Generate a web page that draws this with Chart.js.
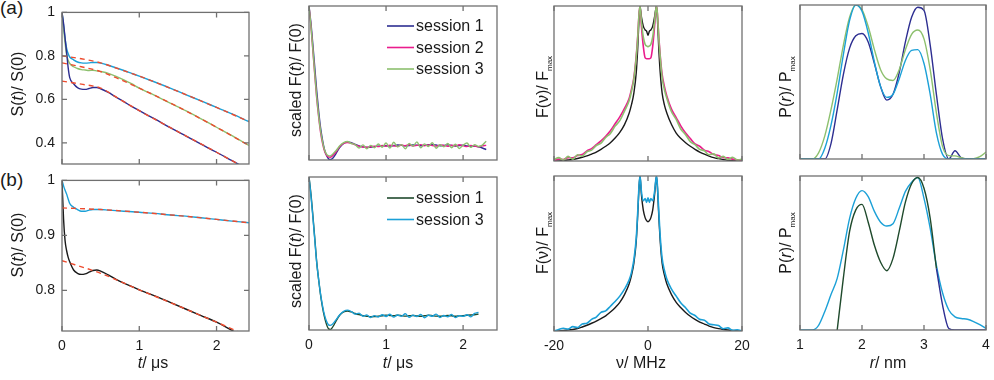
<!DOCTYPE html>
<html>
<head>
<meta charset="utf-8">
<script src="https://cdn.jsdelivr.net/npm/chart.js@4.4.1/dist/chart.umd.min.js"></script>
<style>
  html, body { margin: 0; padding: 0; background: #fff; }
  body { width: 994px; height: 380px; position: relative; overflow: hidden; font-family: "Liberation Sans", Arial, sans-serif; }
  canvas { position: absolute; }
  .tag { position: absolute; font-size: 19px; line-height: 19px; color: #1a1a1a; }
</style>
</head>
<body>
<div class="tag" style="left:0px;top:-2px">(a)</div>
<div class="tag" style="left:0px;top:170px">(b)</div>
<script>
// colours
const NAVY = '#2d2e91', MAGENTA = '#ea1d8d', GREEN = '#8dc06e', CYAN = '#1ba0d7';
const RED = '#ed4c2f', BLACK = '#1a1a1a', DKGREEN = '#1f4a2c', INK = '#1a1a1a', FRAME = '#707070';
const FONT = '"Liberation Sans", Arial, sans-serif';

// tick values
const tTicks = [0, 1, 2];
const nuTicks = [-20, 0, 20];
const rTicks = [1, 2, 3, 4];
const sTicksA = [0.4, 0.6, 0.8, 1];
const sTicksB = [0.8, 0.9, 1];

// column 1, row (a): S(t)/S(0)
const t1a = [0, 0.02, 0.04, 0.06, 0.08, 0.1, 0.15, 0.2, 0.25, 0.3, 0.35, 0.4, 0.45, 0.5, 0.6, 0.7, 0.8, 0.9, 1.0, 1.2, 1.4, 1.6, 1.8, 2.0, 2.2, 2.42];
const navy1a = [1.0, 0.95, 0.88, 0.815, 0.745, 0.7, 0.672, 0.654, 0.647, 0.646, 0.65, 0.655, 0.655, 0.649, 0.632, 0.61, 0.59, 0.568, 0.548, 0.51, 0.47, 0.432, 0.394, 0.357, 0.318, 0.276];
const cyan1a = [1.0, 0.94, 0.88, 0.835, 0.81, 0.795, 0.782, 0.772, 0.768, 0.767, 0.768, 0.77, 0.77, 0.767, 0.757, 0.745, 0.733, 0.72, 0.707, 0.68, 0.652, 0.622, 0.593, 0.563, 0.533, 0.498];
const green1a = [1.0, 0.93, 0.86, 0.805, 0.78, 0.765, 0.75, 0.742, 0.737, 0.735, 0.733, 0.734, 0.731, 0.728, 0.72, 0.706, 0.69, 0.672, 0.652, 0.618, 0.583, 0.548, 0.511, 0.472, 0.433, 0.388];
const tf1a = [0, 0.25, 0.5, 0.75, 1.0, 1.5, 2.0, 2.42];
const fitCyan1a = [0.8, 0.787, 0.768, 0.738, 0.707, 0.637, 0.563, 0.498];
const fitGreen1a = [0.768, 0.75, 0.728, 0.692, 0.652, 0.566, 0.472, 0.388];
const fitNavy1a = [0.684, 0.67, 0.652, 0.6, 0.548, 0.452, 0.357, 0.276];

// column 1, row (b)
const t1b = [0, 0.02, 0.04, 0.06, 0.08, 0.1, 0.15, 0.2, 0.25, 0.3, 0.35, 0.4, 0.45, 0.5, 0.6, 0.7, 0.8, 1.0, 1.2, 1.4, 1.6, 1.8, 2.0, 2.2, 2.42];
const black1b = [1.0, 0.93, 0.89, 0.872, 0.86, 0.852, 0.837, 0.831, 0.829, 0.83, 0.833, 0.836, 0.837, 0.835, 0.828, 0.82, 0.813, 0.801, 0.79, 0.778, 0.766, 0.754, 0.742, 0.727, 0.71];
const cyan1b = [1.0, 0.99, 0.982, 0.975, 0.966, 0.958, 0.951, 0.947, 0.944, 0.944, 0.946, 0.947, 0.947, 0.947, 0.946, 0.945, 0.944, 0.942, 0.94, 0.937, 0.935, 0.932, 0.929, 0.926, 0.923];
const tf1b = [0, 0.5, 1.0, 1.5, 2.0, 2.42];
const fitCyan1b = [0.95, 0.947, 0.942, 0.936, 0.929, 0.923];
const fitBlack1b = [0.854, 0.831, 0.801, 0.772, 0.742, 0.716];

// column 2: scaled F(t)/F(0)
const t2 = [0, 0.025, 0.05, 0.075, 0.1, 0.125, 0.15, 0.175, 0.2, 0.225, 0.25, 0.275, 0.3, 0.325, 0.35,
  0.4, 0.45, 0.5, 0.55, 0.6, 0.65, 0.7, 0.75, 0.8, 0.85, 0.9, 0.95, 1.0, 1.05, 1.1, 1.15, 1.2, 1.25, 1.3, 1.35,
  1.4, 1.45, 1.5, 1.55, 1.6, 1.65, 1.7, 1.75, 1.8, 1.85, 1.9, 1.95, 2.0, 2.05, 2.1, 2.15, 2.2, 2.25, 2.3];
const navy2a = [1.0, 0.89, 0.75, 0.6, 0.45, 0.32, 0.21, 0.13, 0.07, 0.032, 0.01, 0.003, 0.008, 0.022, 0.042,
  0.082, 0.108, 0.117, 0.112, 0.101, 0.092, 0.085, 0.082, 0.083, 0.087, 0.09, 0.092, 0.093, 0.091, 0.094, 0.097, 0.095, 0.092, 0.094, 0.098,
  0.096, 0.093, 0.095, 0.099, 0.1, 0.097, 0.093, 0.095, 0.098, 0.094, 0.091, 0.094, 0.096, 0.092, 0.088, 0.09, 0.085, 0.078, 0.068];
const magenta2a = [1.0, 0.87, 0.71, 0.55, 0.4, 0.28, 0.18, 0.11, 0.06, 0.033, 0.02, 0.018, 0.025, 0.037, 0.052,
  0.088, 0.108, 0.114, 0.108, 0.098, 0.09, 0.084, 0.083, 0.086, 0.09, 0.087, 0.094, 0.09, 0.096, 0.092, 0.088, 0.097, 0.093, 0.099, 0.09,
  0.095, 0.1, 0.092, 0.097, 0.094, 0.09, 0.098, 0.094, 0.089, 0.096, 0.092, 0.099, 0.093, 0.087, 0.095, 0.09, 0.086, 0.092, 0.095];
const green2a = [1.0, 0.87, 0.72, 0.56, 0.41, 0.29, 0.19, 0.12, 0.068, 0.04, 0.028, 0.026, 0.034, 0.047, 0.06,
  0.092, 0.113, 0.12, 0.107, 0.1, 0.078, 0.098, 0.072, 0.095, 0.08, 0.104, 0.083, 0.11, 0.077, 0.115, 0.085, 0.1, 0.072, 0.108, 0.09,
  0.118, 0.079, 0.105, 0.088, 0.112, 0.076, 0.099, 0.086, 0.107, 0.08, 0.102, 0.075, 0.096, 0.11, 0.082, 0.1, 0.088, 0.097, 0.122];
const dkgreen2b = [1.0, 0.89, 0.75, 0.6, 0.445, 0.33, 0.23, 0.15, 0.087, 0.04, 0.01, 0.003, 0.014, 0.034, 0.058,
  0.098, 0.118, 0.124, 0.118, 0.108, 0.1, 0.094, 0.09, 0.087, 0.088, 0.09, 0.093, 0.097, 0.095, 0.093, 0.096, 0.094, 0.091, 0.093, 0.095,
  0.092, 0.09, 0.093, 0.096, 0.094, 0.091, 0.09, 0.092, 0.095, 0.093, 0.09, 0.092, 0.094, 0.096, 0.098, 0.1, 0.104];
const cyan2b = [1.0, 0.88, 0.74, 0.59, 0.44, 0.33, 0.235, 0.16, 0.1, 0.06, 0.036, 0.03, 0.036, 0.05, 0.066,
  0.1, 0.122, 0.13, 0.12, 0.104, 0.11, 0.09, 0.099, 0.082, 0.094, 0.085, 0.1, 0.088, 0.103, 0.084, 0.098, 0.09, 0.106, 0.083, 0.097,
  0.088, 0.102, 0.08, 0.096, 0.09, 0.104, 0.082, 0.095, 0.087, 0.101, 0.081, 0.094, 0.089, 0.1, 0.086, 0.108, 0.115];

// column 3: F(nu)/F_max
const nu = [-20, -19, -18, -17, -16, -15, -14, -13, -12, -11, -10, -9, -8, -7, -6, -5, -4,
  -3.5, -3, -2.5, -2.2, -1.9, -1.7, -1.4, -1, -0.6, -0.3, 0, 0.3, 0.6, 1, 1.4, 1.8, 2, 2.3, 2.6, 3, 3.5,
  4, 5, 6, 7, 8, 9, 10, 11, 12, 13, 14, 15, 16, 17, 18, 19, 20];
const black3a = [0, 0.001, 0.003, 0.006, 0.01, 0.016, 0.024, 0.033, 0.045, 0.058, 0.075, 0.095, 0.118, 0.148, 0.185, 0.235, 0.31,
  0.365, 0.44, 0.57, 0.72, 0.92, 1.0, 0.93, 0.87, 0.845, 0.838, 0.81, 0.838, 0.845, 0.87, 0.93, 1.0, 0.92, 0.72, 0.57, 0.44, 0.36,
  0.31, 0.235, 0.18, 0.145, 0.118, 0.095, 0.075, 0.058, 0.044, 0.032, 0.022, 0.015, 0.009, 0.005, 0.003, 0.001, 0];
const magenta3a = [0.004, 0.012, 0.01, 0.022, 0.02, 0.035, 0.042, 0.065, 0.08, 0.105, 0.13, 0.16, 0.195, 0.24, 0.285, 0.34, 0.405,
  0.465, 0.54, 0.68, 0.8, 0.95, 1.0, 0.87, 0.74, 0.665, 0.66, 0.66, 0.66, 0.665, 0.74, 0.87, 1.0, 0.95, 0.8, 0.68, 0.56, 0.48,
  0.42, 0.335, 0.28, 0.225, 0.18, 0.145, 0.11, 0.095, 0.07, 0.06, 0.042, 0.035, 0.022, 0.02, 0.012, 0.008, 0.004];
const green3a = [0.01, 0.022, 0.006, 0.03, 0.012, 0.04, 0.032, 0.06, 0.07, 0.1, 0.115, 0.152, 0.178, 0.225, 0.26, 0.322, 0.39,
  0.45, 0.53, 0.67, 0.79, 0.95, 1.0, 0.9, 0.8, 0.752, 0.742, 0.737, 0.742, 0.752, 0.8, 0.9, 1.0, 0.95, 0.79, 0.67, 0.54, 0.46,
  0.405, 0.318, 0.268, 0.205, 0.17, 0.125, 0.105, 0.075, 0.066, 0.04, 0.046, 0.02, 0.03, 0.01, 0.024, 0.006, 0.012];
const black3b = [0, 0.001, 0.003, 0.006, 0.01, 0.016, 0.026, 0.037, 0.05, 0.064, 0.08, 0.098, 0.122, 0.15, 0.185, 0.235, 0.305,
  0.36, 0.44, 0.58, 0.74, 0.93, 1.0, 0.88, 0.78, 0.73, 0.712, 0.705, 0.712, 0.73, 0.78, 0.88, 1.0, 0.93, 0.74, 0.58, 0.44, 0.36,
  0.305, 0.235, 0.185, 0.15, 0.12, 0.095, 0.075, 0.058, 0.045, 0.032, 0.022, 0.015, 0.01, 0.006, 0.003, 0.001, 0];
const cyan3b = [0.0, 0.01, 0.018, 0.012, 0.028, 0.022, 0.045, 0.05, 0.075, 0.09, 0.12, 0.13, 0.16, 0.19, 0.225, 0.27, 0.33,
  0.38, 0.46, 0.6, 0.76, 0.94, 1.0, 0.9, 0.84, 0.855, 0.83, 0.86, 0.83, 0.855, 0.84, 0.9, 1.0, 0.94, 0.77, 0.61, 0.47, 0.39,
  0.335, 0.27, 0.225, 0.18, 0.15, 0.115, 0.1, 0.075, 0.07, 0.045, 0.04, 0.035, 0.015, 0.02, 0.005, 0.008, 0.0];

// column 4: P(r)/P_max
const r = [1.0, 1.1, 1.2, 1.3, 1.4, 1.5, 1.6, 1.7, 1.8, 1.9, 2.0, 2.1, 2.2, 2.3, 2.4, 2.5, 2.6, 2.7, 2.8, 2.9,
  3.0, 3.1, 3.2, 3.3, 3.4, 3.5, 3.6, 3.7, 3.8, 3.9, 4.0];
const navy4a = [0, 0, 0, 0, 0, 0.1, 0.32, 0.55, 0.72, 0.8, 0.815, 0.76, 0.62, 0.47, 0.382, 0.42, 0.56, 0.76, 0.92, 0.985,
  0.965, 0.74, 0.42, 0.13, 0, 0.054, 0.008, 0, 0, 0, 0];
const green4a = [0, 0, 0, 0.04, 0.15, 0.32, 0.52, 0.74, 0.92, 1.0, 0.97, 0.86, 0.71, 0.58, 0.52, 0.51, 0.58, 0.71, 0.81, 0.838,
  0.78, 0.58, 0.3, 0.08, 0.022, 0.02, 0.008, 0.001, 0.002, 0.015, 0.045];
const cyan4a = [0, 0, 0, 0, 0.07, 0.22, 0.43, 0.68, 0.9, 1.0, 0.96, 0.82, 0.63, 0.47, 0.4, 0.42, 0.52, 0.64, 0.705, 0.71,
  0.62, 0.42, 0.17, 0.03, 0, 0, 0, 0, 0, 0, 0];
const cyan4b = [0, 0, 0, 0.03, 0.12, 0.23, 0.335, 0.52, 0.725, 0.855, 0.905, 0.866, 0.77, 0.7, 0.675, 0.69, 0.79, 0.9, 0.96, 0.99,
  0.855, 0.66, 0.42, 0.24, 0.13, 0.085, 0.075, 0.07, 0.055, 0.035, 0.01];
const dkgreen4b = [null, null, null, null, null, null, 0, 0.34, 0.64, 0.78, 0.816, 0.7, 0.55, 0.44, 0.385, 0.465, 0.64, 0.83, 0.95, 0.99,
  0.92, 0.725, 0.4, null, null, null, null, null, null, null, null];
const navy4b = [null, null, null, null, null, null, null, null, null, null, null, null, null, null, null, null, null, null, null, null,
  null, null, 0.4, 0.16, 0.01, 0, 0, 0, 0, 0, 0];

// axis titles: [text, style] with 'i' italic, 's' subscript
const titleS = [['S('], ['t', 'i'], [')/ S(0)']];
const titleScaled = [['scaled F('], ['t', 'i'], [')/ F(0)']];
const titleF = [['F(ν)/ F'], ['max', 's']];
const titleP = [['P('], ['r', 'i'], [')/ P'], ['max', 's']];
const titleT = [['t', 'i'], ['/ μs']];
const titleNu = [['ν/ MHz']];
const titleR = [['r', 'i'], ['/ nm']];

const ML = 60, MT = 12, MR = 20, MB = 50;

function pts(xs, ys) {
  return ys.map((y, i) => ({ x: xs[i], y: y }));
}
function curve(xs, ys, color, w) {
  return { data: pts(xs, ys), borderColor: color, borderWidth: w || 1.4, pointRadius: 0, fill: false,
    cubicInterpolationMode: 'monotone', spanGaps: false };
}
function dash(xs, ys) {
  const d = curve(xs, ys, RED, 1.4);
  d.borderDash = [5, 4];
  return d;
}

function segFont(s) {
  if (s[1] === 's') return '8px ' + FONT;
  return (s[1] === 'i' ? 'italic ' : '') + '16px ' + FONT;
}
function drawRich(ctx, segs, x, y, vertical) {
  ctx.save();
  ctx.translate(x, y);
  if (vertical) ctx.rotate(-Math.PI / 2);
  ctx.fillStyle = INK;
  ctx.textAlign = 'left';
  ctx.textBaseline = 'alphabetic';
  let w = 0;
  segs.forEach(s => { ctx.font = segFont(s); w += ctx.measureText(s[0]).width; });
  let cx = -w / 2;
  segs.forEach(s => {
    ctx.font = segFont(s);
    ctx.fillText(s[0], cx, s[1] === 's' ? 10 : 6);
    cx += ctx.measureText(s[0]).width;
  });
  ctx.restore();
}

function makeDeco(p, ox, oy) {
  return {
    id: 'deco',
    afterDatasetsDraw(chart) {
      const ctx = chart.ctx, a = chart.chartArea, xs = chart.scales.x, ys = chart.scales.y;
      ctx.save();
      // box with inward ticks
      ctx.strokeStyle = FRAME;
      ctx.lineWidth = 1.3;
      ctx.strokeRect(a.left, a.top, a.right - a.left, a.bottom - a.top);
      ctx.beginPath();
      p.xTicks.forEach(v => {
        const x = xs.getPixelForValue(v);
        ctx.moveTo(x, a.bottom); ctx.lineTo(x, a.bottom - 5);
        ctx.moveTo(x, a.top); ctx.lineTo(x, a.top + 5);
      });
      (p.yTicks || []).forEach(v => {
        const y = ys.getPixelForValue(v);
        ctx.moveTo(a.left, y); ctx.lineTo(a.left + 5, y);
        ctx.moveTo(a.right, y); ctx.lineTo(a.right - 5, y);
      });
      ctx.stroke();
      // legend
      if (p.legend) {
        p.legend.forEach((e, k) => {
          const y = a.top + p.legendTop + k * 21.5;
          ctx.strokeStyle = e[1];
          ctx.lineWidth = 1.6;
          ctx.beginPath();
          ctx.moveTo(a.left + 78, y); ctx.lineTo(a.left + 105, y);
          ctx.stroke();
          ctx.font = '16px ' + FONT;
          ctx.fillStyle = INK;
          ctx.textAlign = 'left';
          ctx.textBaseline = 'middle';
          ctx.fillText(e[0], a.left + 107, y + 1);
        });
      }
      ctx.restore();
      // axis titles (page coordinates)
      if (p.yTitle) drawRich(ctx, p.yTitle[0], p.yTitle[1] - ox, p.yTitle[2] - oy, true);
      if (p.xTitle) drawRich(ctx, p.xTitle[0], p.xTitle[1] - ox, p.xTitle[2] - oy, false);
    }
  };
}

function fmt(v) { return String(+(+v).toFixed(2)); }

function makePanel(p) {
  const [l, t, rr, b] = p.box;
  const w = rr - l + ML + MR, h = b - t + MT + MB;
  const ox = l - ML, oy = t - MT;
  const cv = document.createElement('canvas');
  cv.width = w; cv.height = h;
  cv.style.left = ox + 'px'; cv.style.top = oy + 'px';
  cv.style.width = w + 'px'; cv.style.height = h + 'px';
  document.body.appendChild(cv);
  const tickFont = { family: FONT, size: 14 };
  new Chart(cv, {
    type: 'line',
    data: { datasets: p.sets },
    options: {
      responsive: false,
      animation: false,
      devicePixelRatio: 1,
      layout: { padding: { top: MT, right: MR, left: 0, bottom: 0 } },
      plugins: { legend: { display: false }, tooltip: { enabled: false } },
      scales: {
        x: {
          type: 'linear', min: p.x[0], max: p.x[1],
          grid: { display: false, drawTicks: false }, border: { display: false },
          afterBuildTicks: s => { s.ticks = p.xTicks.map(v => ({ value: v })); },
          ticks: { display: !!p.xLabels, autoSkip: false, maxRotation: 0, padding: 7, color: INK, font: tickFont, callback: fmt },
          afterFit: s => { s.height = MB; }
        },
        y: {
          type: 'linear', min: p.y[0], max: p.y[1],
          grid: { display: false, drawTicks: false }, border: { display: false },
          afterBuildTicks: s => { s.ticks = (p.yTicks || []).map(v => ({ value: v })); },
          ticks: { display: !!p.yTicks, autoSkip: false, padding: 7, color: INK, font: tickFont, callback: fmt },
          afterFit: s => { s.width = ML; }
        }
      }
    },
    plugins: [makeDeco(p, ox, oy)]
  });
}

const panels = [
  { box: [62, 9, 249, 164], x: [0, 2.42], y: [0.303, 1], xTicks: tTicks, yTicks: sTicksA,
    sets: [dash(tf1a, fitCyan1a), dash(tf1a, fitGreen1a), dash(tf1a, fitNavy1a),
      curve(t1a, navy1a, NAVY), curve(t1a, green1a, GREEN), curve(t1a, cyan1a, CYAN)],
    yTitle: [titleS, 17, 84] },
  { box: [309, 6, 497, 160], x: [0, 2.44], y: [0, 1], xTicks: tTicks,
    sets: [curve(t2, green2a, GREEN), curve(t2, magenta2a, MAGENTA), curve(t2, navy2a, NAVY)],
    legend: [['session 1', NAVY], ['session 2', MAGENTA], ['session 3', GREEN]], legendTop: 20,
    yTitle: [titleScaled, 295, 80] },
  { box: [554, 6, 742, 161], x: [-20, 20], y: [0, 1], xTicks: nuTicks,
    sets: [curve(nu, green3a, GREEN, 1.6), curve(nu, magenta3a, MAGENTA, 1.6), curve(nu, black3a, BLACK)],
    yTitle: [titleF, 542, 87] },
  { box: [800, 5, 986, 159], x: [1, 4], y: [0, 1], xTicks: rTicks,
    sets: [curve(r, cyan4a, CYAN), curve(r, green4a, GREEN), curve(r, navy4a, NAVY)],
    yTitle: [titleP, 785, 87] },
  { box: [62, 177, 249, 331], x: [0, 2.42], y: [0.726, 1], xTicks: tTicks, yTicks: sTicksB, xLabels: true,
    sets: [dash(tf1b, fitCyan1b), dash(tf1b, fitBlack1b), curve(t1b, black1b, BLACK), curve(t1b, cyan1b, CYAN)],
    yTitle: [titleS, 17, 245], xTitle: [titleT, 153, 362] },
  { box: [309, 177, 497, 330], x: [0, 2.44], y: [0, 1], xTicks: tTicks, xLabels: true,
    sets: [curve(t2, cyan2b, CYAN), curve(t2, dkgreen2b, DKGREEN)],
    legend: [['session 1', DKGREEN], ['session 3', CYAN]], legendTop: 21,
    yTitle: [titleScaled, 295, 251], xTitle: [titleT, 398, 362] },
  { box: [554, 176, 742, 331], x: [-20, 20], y: [0, 1], xTicks: nuTicks, xLabels: true,
    sets: [curve(nu, cyan3b, CYAN, 1.6), curve(nu, black3b, BLACK)],
    yTitle: [titleF, 542, 243], xTitle: [titleNu, 641, 362] },
  { box: [800, 176, 986, 330], x: [1, 4], y: [0, 1], xTicks: rTicks, xLabels: true,
    sets: [curve(r, dkgreen4b, DKGREEN), curve(r, navy4b, NAVY), curve(r, cyan4b, CYAN)],
    yTitle: [titleP, 785, 243], xTitle: [titleR, 888, 362] }
];

panels.forEach(makePanel);
</script>
</body>
</html>
